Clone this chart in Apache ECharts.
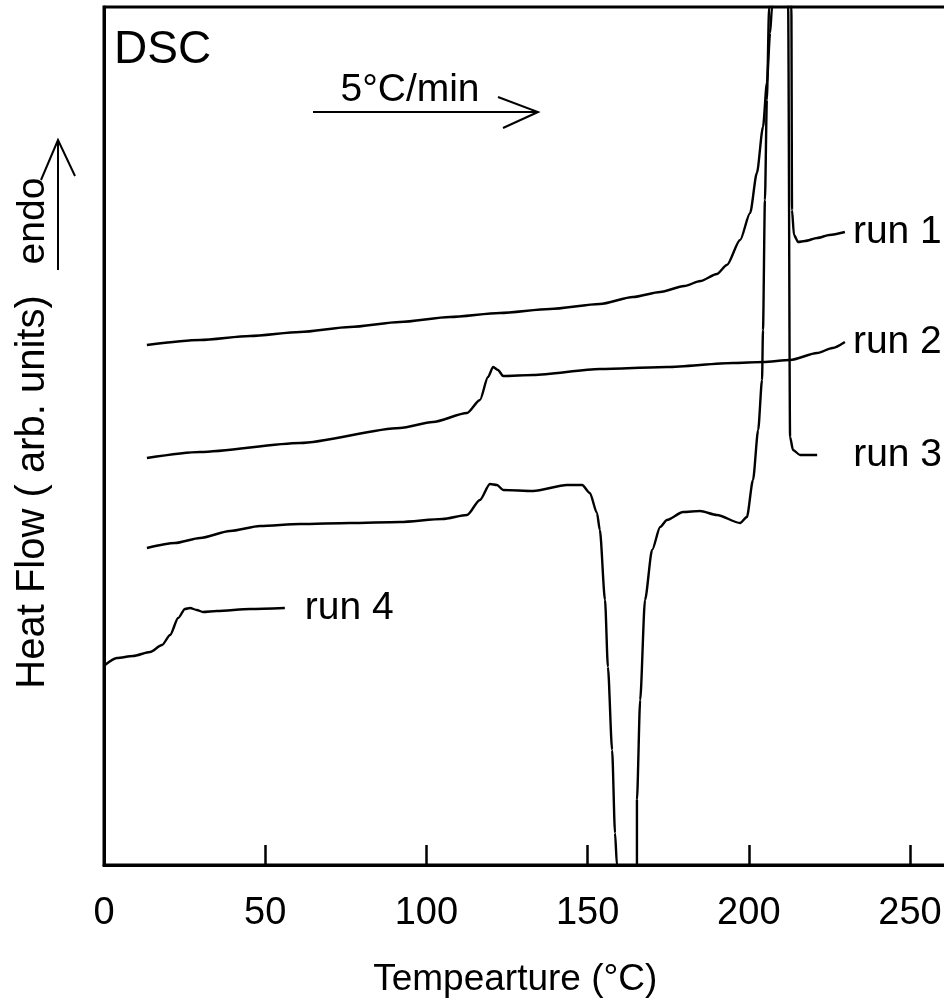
<!DOCTYPE html>
<html>
<head>
<meta charset="utf-8">
<script src="https://cdn.jsdelivr.net/npm/echarts@6/dist/echarts.min.js"></script>
<style>
html,body{margin:0;padding:0;background:#fff;}
#chart{width:944px;height:1005px;}
</style>
</head>
<body>
<div id="chart"></div>
<script>
// Temperature (°C), heat flow (arb. units)
const xTicks = [0, 50, 100, 150, 200, 250];
const run1 = [[13.3,52.0],[29.8,52.5],[45.3,52.9],[60.8,53.3],[76.3,53.8],[91.8,54.3],[107.3,54.8],[122.8,55.2],[138.3,55.6],[153.8,56.1],[164.1,56.8],[172.5,57.3],[180.0,57.9],[185.0,58.4],[190.1,59.1],[193.2,60.0],[197.3,62.5],[200.4,65.2],[202.5,69.2],[204.4,73.8],[205.6,78.2],[206.6,83.2],[207.2,85.8],[210.3,140],[213.2,85.8],[213.4,65.5],[214.0,63.0],[215.3,62.3],[217.4,62.4],[221.2,62.7],[225.0,63.0],[229.8,63.3]];
const run2 = [[13.3,40.7],[29.8,41.3],[60.8,42.2],[91.8,43.7],[102.0,44.3],[112.6,45.2],[116.6,46.5],[119.1,48.8],[120.7,49.8],[122.2,49.5],[123.8,48.9],[133.1,49.0],[153.8,49.6],[174.6,49.8],[195.1,50.2],[204.4,50.3],[212.8,50.5],[221.2,51.2],[226.0,51.7],[229.8,52.3]];
const run3 = [[13.3,31.7],[22.0,32.2],[29.8,32.7],[39.1,33.4],[48.4,33.9],[60.8,34.1],[76.3,34.2],[91.8,34.3],[105.0,34.6],[112.6,35.0],[116.6,36.5],[119.7,38.1],[121.9,38.0],[123.8,37.5],[133.1,37.4],[143.6,38.0],[148.3,38.0],[150.7,37.2],[152.9,35.2],[153.8,33.5],[155.4,26.5],[156.3,19.8],[157.6,11.5],[158.5,3.2],[159.1,0],[162.2,-40],[165.3,0],[165.3,6.5],[166.3,16.5],[167.8,26.5],[170.0,31.5],[172.5,33.8],[174.6,34.5],[179.6,35.3],[184.9,35.4],[190.1,35.0],[197.3,34.2],[199.4,34.8],[201.3,38.5],[202.9,43.5],[204.1,48.5],[204.4,53.5],[205.0,66.5],[205.6,76.5],[206.3,85.8],[209.5,140],[212.2,85.8],[212.8,42.8],[213.7,41.5],[215.9,41.0],[221.2,41.0]];
const run4 = [[0.3,20.0],[4.0,20.7],[9.0,20.9],[14.3,21.3],[18.0,22.0],[20.5,23.0],[23.0,24.7],[25.1,25.6],[26.7,25.7],[28.8,25.5],[30.7,25.3],[35.0,25.4],[45.3,25.6],[56.1,25.7]];
const runNames = ['run 1', 'run 2', 'run 3', 'run 4'];

const FONT = '"Liberation Sans", Arial, sans-serif';
const chart = echarts.init(document.getElementById('chart'), null, {renderer: 'canvas'});

function mk(name, data, dist) {
  return {
    name: name, type: 'line', data: data, showSymbol: false, symbol: 'none',
    smooth: 0.25, smoothMonotone: 'x', clip: true,
    lineStyle: {color: '#000', width: 2.4},
    endLabel: {show: true, formatter: '{a}', distance: dist, color: '#000', fontSize: 39, fontFamily: FONT},
    emphasis: {disabled: true}
  };
}

chart.setOption({
  animation: false,
  backgroundColor: '#fff',
  grid: {left: 104, top: 7, width: 870.5, bottom: 140, show: true, borderColor: '#000', borderWidth: 3,
    containLabel: false, outerBoundsMode: 'none'},
  xAxis: {
    type: 'value', min: 0, max: 270, interval: 50,
    name: 'Tempearture (°C)', nameLocation: 'middle', nameGap: 96,
    nameTextStyle: {fontSize: 37, color: '#000', fontFamily: FONT, padding: [0, 48, 0, 0]},
    axisLine: {show: true, lineStyle: {color: '#000', width: 3}},
    axisTick: {show: true, inside: true, length: 20, lineStyle: {color: '#000', width: 2.5}},
    axisLabel: {fontSize: 38, color: '#000', fontFamily: FONT, margin: 30,
      formatter: function (v) { return xTicks.indexOf(v) >= 0 ? String(v) : ''; }},
    splitLine: {show: false}
  },
  yAxis: {
    type: 'value', min: 0, max: 85.8,
    axisLine: {show: true, lineStyle: {color: '#000', width: 3}},
    axisTick: {show: false}, axisLabel: {show: false}, splitLine: {show: false}
  },
  series: [mk(runNames[0], run1, 8), mk(runNames[1], run2, 8), mk(runNames[2], run3, 36), mk(runNames[3], run4, 20)],
  graphic: [
    {type: 'text', left: 114, top: 27, style: {text: 'DSC', fontSize: 46, fill: '#000', fontFamily: FONT}},
    {type: 'text', x: 410, y: 90, style: {text: '5°C/min', fontSize: 39, fill: '#000', fontFamily: FONT, textAlign: 'center', textVerticalAlign: 'middle'}},
    {type: 'line', shape: {x1: 313, y1: 112, x2: 538, y2: 112}, style: {stroke: '#000', lineWidth: 2}},
    {type: 'polyline', shape: {points: [[498, 97], [538, 112], [503, 128]]}, style: {stroke: '#000', lineWidth: 2, fill: null}},
    {type: 'text', x: 33, y: 492, rotation: Math.PI / 2, style: {text: 'Heat Flow ( arb. units)', fontSize: 40, fill: '#000', fontFamily: FONT, textAlign: 'center', textVerticalAlign: 'middle'}},
    {type: 'text', x: 33, y: 221, rotation: Math.PI / 2, style: {text: 'endo', fontSize: 39, fill: '#000', fontFamily: FONT, textAlign: 'center', textVerticalAlign: 'middle'}},
    {type: 'line', shape: {x1: 58, y1: 270, x2: 58, y2: 141}, style: {stroke: '#000', lineWidth: 2}},
    {type: 'polyline', shape: {points: [[41, 180], [58, 140], [75, 176]]}, style: {stroke: '#000', lineWidth: 2, fill: null}}
  ]
});
</script>
</body>
</html>
